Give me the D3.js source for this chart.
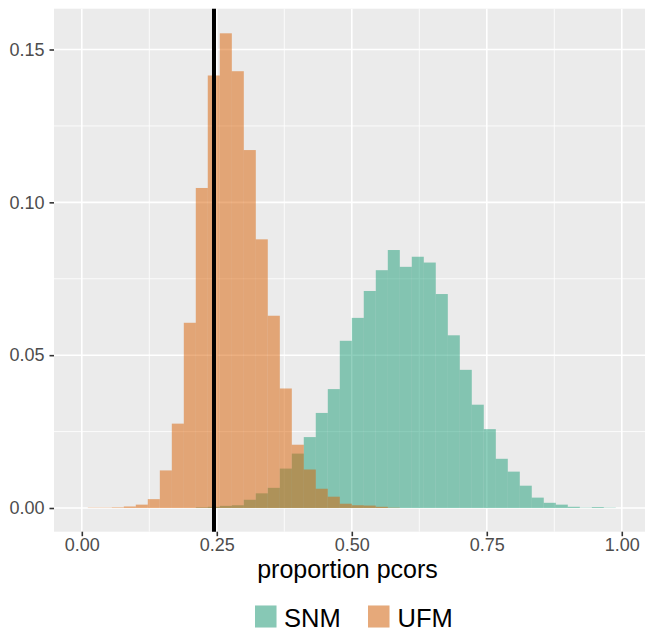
<!DOCTYPE html>
<html>
<head>
<meta charset="utf-8">
<script src="https://cdn.jsdelivr.net/npm/d3@7"></script>
<style>
  html, body { margin: 0; padding: 0; background: #ffffff; }
  svg { display: block; font-family: "Liberation Sans", Arial, Helvetica, sans-serif; }
</style>
</head>
<body>
<div id="chart"></div>
<script>
// ---- data (proportion of pcors per bin, bin width 1/45) ----
const binWidth = 0.02222;
const binCenters = [0.0222,0.0444,0.0667,0.0889,0.1111,0.1333,0.1556,0.1778,0.2000,0.2222,
                    0.2444,0.2667,0.2889,0.3111,0.3333,0.3556,0.3778,0.4000,0.4222,0.4444,
                    0.4667,0.4889,0.5111,0.5333,0.5556,0.5778,0.6000,0.6222,0.6444,0.6667,
                    0.6889,0.7111,0.7333,0.7556,0.7778,0.8000,0.8222,0.8444,0.8667,0.8889,
                    0.9111,0.9333,0.9556,0.9778];
const snmProp = [0,0,0,0,0,0,0,0,0,0.0002,
                 0.0004,0.0007,0.0009,0.0027,0.0048,0.0066,0.0129,0.0178,0.0232,0.0311,
                 0.0389,0.0547,0.0622,0.0710,0.0778,0.0844,0.0789,0.0822,0.0803,0.0700,
                 0.0565,0.0452,0.0338,0.0258,0.0161,0.0119,0.0073,0.0034,0.0017,0.0011,
                 0.0004,0.0001,0.0003,0.0001];
const ufmProp = [0.0001,0.0001,0.0002,0.0005,0.0011,0.0029,0.0123,0.0276,0.0606,0.1047,
                 0.1415,0.1553,0.1429,0.1171,0.0879,0.0629,0.0391,0.0207,0.0126,0.0063,
                 0.0037,0.0014,0.0009,0.0008,0.0004,0.0001,0,0,0,0,
                 0,0,0,0,0,0,0,0,0,0,
                 0,0,0,0];
const seriesNames = ["SNM", "UFM"];
const seriesColors = ["#1B9E77", "#D95F02"];
const refLine = 0.2448;
const xTicks = [0, 0.25, 0.5, 0.75, 1.0];
const xMinor = [0.125, 0.375, 0.625, 0.875];
const yTicks = [0, 0.05, 0.10, 0.15];
const yMinor = [0.025, 0.075, 0.125];
const xTitle = "proportion pcors";

// ---- layout ----
const W = 645, H = 633;
const panel = { left: 54, right: 645, top: 8.7, bottom: 531.7 };

const x = d3.scaleLinear().domain([-0.0515, 1.0430]).range([panel.left, panel.right]);
const y = d3.scaleLinear().domain([-0.00775, 0.16335]).range([panel.bottom, panel.top]);

const svg = d3.select("#chart").append("svg").attr("width", W).attr("height", H);

// panel background
svg.append("rect")
  .attr("x", panel.left).attr("y", panel.top)
  .attr("width", panel.right - panel.left).attr("height", panel.bottom - panel.top)
  .attr("fill", "#EBEBEB");

const grid = svg.append("g");
// minor grid
grid.selectAll(".vmin").data(xMinor).join("line")
  .attr("x1", d => x(d)).attr("x2", d => x(d))
  .attr("y1", panel.top).attr("y2", panel.bottom)
  .attr("stroke", "#ffffff").attr("stroke-width", 0.8);
grid.selectAll(".hmin").data(yMinor).join("line")
  .attr("y1", d => y(d)).attr("y2", d => y(d))
  .attr("x1", panel.left).attr("x2", panel.right)
  .attr("stroke", "#ffffff").attr("stroke-width", 0.8);
// major grid
grid.selectAll(".vmaj").data(xTicks).join("line")
  .attr("x1", d => x(d)).attr("x2", d => x(d))
  .attr("y1", panel.top).attr("y2", panel.bottom)
  .attr("stroke", "#ffffff").attr("stroke-width", 1.6);
grid.selectAll(".hmaj").data(yTicks).join("line")
  .attr("y1", d => y(d)).attr("y2", d => y(d))
  .attr("x1", panel.left).attr("x2", panel.right)
  .attr("stroke", "#ffffff").attr("stroke-width", 1.6);

// histogram bars: SNM first, UFM on top
const seriesVals = [snmProp, ufmProp];
seriesVals.forEach((vals, si) => {
  const data = binCenters.map((c, i) => ({ c, v: vals[i] })).filter(d => d.v > 0);
  svg.append("g").selectAll("rect").data(data).join("rect")
    .attr("x", d => x(d.c - binWidth / 2))
    .attr("width", d => x(d.c + binWidth / 2) - x(d.c - binWidth / 2))
    .attr("y", d => y(d.v))
    .attr("height", d => y(0) - y(d.v))
    .attr("fill", seriesColors[si])
    .attr("fill-opacity", 0.5);
});

// reference line
svg.append("line")
  .attr("x1", x(refLine)).attr("x2", x(refLine))
  .attr("y1", panel.top).attr("y2", panel.bottom)
  .attr("stroke", "#000000").attr("stroke-width", 4);

// axes
const xAxis = d3.axisBottom(x).tickValues(xTicks).tickFormat(d3.format(".2f"))
  .tickSize(4.5).tickPadding(2.5);
const yAxis = d3.axisLeft(y).tickValues(yTicks).tickFormat(d3.format(".2f"))
  .tickSize(4.5).tickPadding(5);

const gx = svg.append("g").attr("transform", `translate(0,${panel.bottom})`).call(xAxis);
const gy = svg.append("g").attr("transform", `translate(${panel.left},0)`).call(yAxis);
[gx, gy].forEach(g => {
  g.select(".domain").remove();
  g.selectAll(".tick line").attr("stroke", "#333333").attr("stroke-width", 1.6);
  g.selectAll(".tick text").attr("fill", "#4D4D4D").style("font-size", "18px")
    .style("font-family", "'Liberation Sans', Arial, sans-serif");
});

// axis title
svg.append("text")
  .attr("x", 347.5).attr("y", 577.5)
  .attr("text-anchor", "middle")
  .style("font-size", "25px").attr("fill", "#000000")
  .text(xTitle);

// legend
const legendKeys = [{ kx: 255, tx: 284 }, { kx: 368, tx: 397.5 }];
seriesNames.forEach((name, i) => {
  const g = svg.append("g");
  g.append("rect").attr("x", legendKeys[i].kx).attr("y", 605.5)
    .attr("width", 21.5).attr("height", 22).attr("fill", "#F2F2F2");
  g.append("rect").attr("x", legendKeys[i].kx).attr("y", 605.5)
    .attr("width", 21.5).attr("height", 22)
    .attr("fill", seriesColors[i]).attr("fill-opacity", 0.5);
  g.append("text").attr("x", legendKeys[i].tx).attr("y", 627)
    .style("font-size", "25.5px").attr("fill", "#000000").text(name);
});
</script>
</body>
</html>
